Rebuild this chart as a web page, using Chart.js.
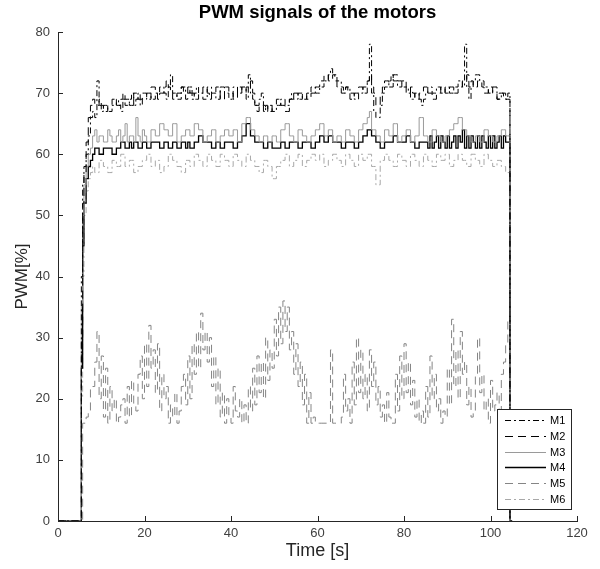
<!DOCTYPE html>
<html lang="en">
<head>
    <meta charset="UTF-8">
    <title>PWM signals of the motors</title>
    <style>
        body {
            margin: 0;
            background: #fff;
        }
    </style>
    <script src="https://cdn.jsdelivr.net/npm/chart.js"></script>
</head>
<body>
    <canvas id="pwm-chart" width="600" height="569"></canvas>
    <script>
        // time stamps [s], shared by all motors
        const time = [
            0, 5.2, 5.4, 5.7, 6, 6.5, 7, 7.5,
            8, 8.5, 9, 9.5,
            10, 10.5, 11, 11.5, 12, 12.5, 13, 13.5, 14, 14.5,
            15, 15.5, 16, 16.5, 17, 17.5, 18, 18.5, 19, 19.5,
            20, 20.5, 21, 21.5, 22, 22.5, 23, 23.5, 24, 24.5,
            25, 25.5, 26, 26.5, 27, 27.5, 28, 28.5, 29, 29.5,
            30, 30.5, 31, 31.5, 32, 32.5, 33, 33.5, 34, 34.5,
            35, 35.5, 36, 36.5, 37, 37.5, 38, 38.5, 39, 39.5,
            40, 40.5, 41, 41.5, 42, 42.5, 43, 43.5, 44, 44.5,
            45, 45.5, 46, 46.5, 47, 47.5, 48, 48.5, 49, 49.5,
            50, 50.5, 51, 51.5, 52, 52.5, 53, 53.5, 54, 54.5,
            55, 55.5, 56, 56.5, 57, 57.5, 58, 58.5, 59, 59.5,
            60, 60.5, 61, 61.5, 62, 62.5, 63, 63.5, 64, 64.5,
            65, 65.5, 66, 66.5, 67, 67.5, 68, 68.5, 69, 69.5,
            70, 70.5, 71, 71.5, 72, 72.5, 73, 73.5, 74, 74.5,
            75, 75.5, 76, 76.5, 77, 77.5, 78, 78.5, 79, 79.5,
            80, 80.5, 81, 81.5, 82, 82.5, 83, 83.5, 84, 84.5,
            85, 85.5, 86, 86.5, 87, 87.5, 88, 88.5, 89, 89.5,
            90, 90.5, 91, 91.5, 92, 92.5, 93, 93.5, 94, 94.5,
            95, 95.5, 96, 96.5, 97, 97.5, 98, 98.5, 99, 99.5,
            100, 100.5, 101, 101.5, 102, 102.5, 103, 103.5, 104,
            104.5, 105
        ];

        const m1 = [
            0, 0, 40, 55, 58, 60, 63, 66,
            67, 66, 72, 68,
            67, 68, 68, 67, 67, 68, 68, 69, 68, 67,
            69, 68, 68, 69, 70, 68, 69, 70, 68, 69,
            69, 70, 70, 69, 69, 70, 70, 71, 71, 70,
            69, 71, 73, 70, 70, 69, 69, 71, 71, 70,
            70, 71, 69, 70, 71, 70, 70, 69, 69, 71,
            71, 70, 70, 69, 69, 71, 71, 70, 70, 69,
            69, 71, 71, 70, 70, 71, 71, 69, 73, 70,
            69, 68, 68, 69, 70, 68, 67, 68, 68, 67,
            67, 68, 68, 69, 69, 68, 68, 69, 70, 69,
            69, 70, 70, 69, 69, 70, 70, 71, 71, 70,
            70, 71, 71, 72, 72, 73, 74, 73, 73, 72,
            72, 71, 70, 71, 71, 70, 70, 69, 69, 70,
            70, 71, 71, 72, 78, 70, 67, 66, 66, 68,
            70, 71, 71, 72, 73, 72, 72, 71, 71, 72,
            72, 71, 70, 69, 69, 70, 70, 69, 68, 69,
            70, 71, 71, 70, 70, 71, 71, 70, 70, 71,
            71, 70, 70, 71, 71, 72, 72, 71, 78, 71,
            69, 71, 72, 73, 73, 72, 72, 71, 71, 70,
            70, 71, 71, 69, 69, 70, 70, 69, 70,
            0, 0
        ];

        const m2 = [
            0, 0, 30, 52, 57, 62, 66, 68,
            69, 68, 68, 69,
            68, 67, 67, 68, 68, 69, 69, 68, 68, 69,
            70, 69, 69, 68, 68, 70, 70, 69, 69, 70,
            70, 69, 69, 71, 71, 70, 69, 70, 70, 71,
            72, 71, 70, 69, 69, 70, 70, 71, 70, 69,
            71, 70, 70, 69, 69, 70, 70, 71, 71, 70,
            69, 70, 70, 71, 71, 69, 69, 71, 71, 70,
            70, 69, 69, 71, 71, 70, 70, 71, 71, 72,
            70, 68, 67, 68, 68, 67, 68, 67, 67, 68,
            68, 69, 69, 68, 68, 67, 67, 69, 69, 70,
            70, 69, 69, 70, 70, 69, 69, 70, 70, 71,
            71, 72, 72, 73, 73, 72, 72, 73, 72, 71,
            71, 70, 70, 71, 70, 69, 69, 70, 70, 71,
            71, 70, 70, 72, 73, 71, 70, 68, 68, 70,
            71, 72, 72, 71, 71, 73, 73, 72, 72, 71,
            71, 70, 70, 71, 70, 69, 69, 70, 70, 71,
            71, 70, 70, 69, 69, 70, 70, 71, 71, 70,
            70, 71, 71, 70, 70, 71, 71, 72, 72, 73,
            71, 72, 71, 71, 72, 72, 71, 70, 70, 71,
            71, 70, 70, 69, 70, 70, 69, 69, 69,
            0, 0
        ];

        const m3 = [
            0, 0, 35, 50, 55, 58, 60, 61,
            63, 64, 62, 63,
            63, 62, 62, 64, 63, 62, 62, 63, 64, 62,
            63, 65, 62, 63, 63, 62, 66, 63, 62, 64,
            63, 62, 62, 64, 64, 63, 63, 65, 65, 64,
            64, 63, 63, 65, 65, 62, 62, 63, 63, 64,
            64, 63, 63, 65, 65, 64, 64, 62, 62, 63,
            63, 64, 64, 62, 62, 63, 63, 64, 64, 63,
            63, 64, 64, 62, 62, 65, 65, 66, 66, 64,
            64, 63, 63, 62, 62, 63, 63, 62, 62, 63,
            63, 62, 62, 64, 64, 65, 65, 63, 63, 62,
            62, 64, 64, 63, 63, 62, 62, 63, 63, 64,
            64, 65, 65, 63, 63, 64, 64, 62, 62, 63,
            63, 62, 62, 64, 64, 63, 63, 62, 62, 64,
            64, 65, 65, 66, 67, 64, 64, 63, 63, 62,
            62, 64, 64, 63, 63, 65, 65, 62, 62, 63,
            63, 64, 64, 62, 62, 63, 63, 66, 66, 63,
            63, 62, 62, 64, 64, 63, 63, 62, 62, 63,
            63, 64, 64, 65, 65, 66, 66, 64, 64, 63,
            63, 62, 62, 63, 63, 62, 62, 64, 64, 63,
            63, 62, 62, 63, 63, 64, 64, 63, 63,
            0, 0
        ];

        const m4 = [
            0, 0, 25, 45, 52, 56, 58, 59,
            60, 61, 61, 60,
            60, 61, 61, 61, 61, 60, 60, 61, 61, 62,
            62, 61, 61, 62, 61, 62, 62, 61, 61, 62,
            62, 61, 61, 62, 62, 62, 62, 61, 61, 62,
            62, 61, 61, 62, 62, 61, 61, 62, 62, 61,
            62, 61, 61, 62, 62, 63, 63, 62, 62, 62,
            62, 61, 61, 62, 62, 61, 61, 62, 62, 62,
            62, 61, 61, 62, 62, 63, 63, 65, 65, 63,
            63, 62, 62, 62, 62, 61, 61, 62, 62, 61,
            61, 61, 61, 62, 62, 61, 61, 62, 62, 62,
            62, 61, 61, 62, 62, 62, 62, 61, 61, 62,
            62, 63, 63, 62, 62, 63, 63, 62, 62, 62,
            62, 61, 61, 62, 62, 62, 62, 61, 61, 62,
            62, 63, 63, 64, 64, 63, 63, 62, 62, 61,
            61, 62, 62, 62, 62, 63, 63, 62, 62, 62,
            62, 63, 63, 62, 62, 61, 61, 62, 62, 62,
            62, 61, 63, 61, 62, 63, 61, 63, 62, 61,
            63, 61, 62, 63, 61, 63, 62, 64, 61, 63,
            61, 63, 62, 61, 63, 61, 63, 62, 61, 63,
            61, 63, 61, 62, 63, 61, 63, 62, 62,
            0, 0
        ];

        const m5 = [
            0, 0, 0, 16, 16, 17, 18, 22,
            22, 26, 31, 20,
            27, 17, 25, 16, 22, 18, 20, 16, 17, 19,
            20, 16, 22, 17, 23, 19, 18, 24, 27, 20,
            29, 22, 32, 25, 28, 21, 29, 18, 24, 20,
            22, 16, 19, 17, 21, 16, 18, 22, 24, 19,
            27, 20, 29, 24, 31, 25, 34, 28, 31, 26,
            30, 22, 27, 19, 25, 17, 21, 16, 20, 17,
            16, 22, 18, 17, 20, 16, 19, 16, 22, 18,
            25, 19, 27, 21, 26, 20, 30, 23, 28, 25,
            33, 27, 35, 29, 36, 31, 35, 28, 31, 24,
            29, 22, 26, 19, 24, 16, 21, 16, 17, 16,
            16, 16, 16, 16, 16, 16, 28, 16, 16, 16,
            16, 17, 24, 18, 20, 16, 26, 19, 30, 21,
            28, 20, 24, 18, 28, 22, 26, 19, 22, 17,
            19, 16, 21, 17, 16, 16, 24, 18, 27, 20,
            29, 21, 26, 19, 23, 17, 20, 16, 18, 16,
            22, 17, 27, 20, 24, 18, 20, 16, 18, 17,
            25, 19, 33, 22, 28, 20, 31, 24, 26, 19,
            22, 17, 18, 24, 30, 21, 24, 18, 20, 16,
            23, 18, 19, 21, 16, 24, 26, 29, 33,
            0, 0
        ];

        const m6 = [
            0, 0, 20, 40, 50, 54, 56, 57,
            58, 57, 57, 59,
            59, 58, 58, 57, 57, 59, 59, 58, 58, 60,
            60, 58, 58, 59, 59, 57, 57, 58, 58, 59,
            59, 60, 60, 58, 58, 59, 59, 57, 57, 58,
            58, 60, 60, 59, 59, 58, 58, 57, 57, 59,
            59, 58, 58, 60, 60, 59, 59, 58, 58, 60,
            60, 59, 59, 58, 58, 60, 60, 59, 59, 58,
            58, 60, 60, 59, 59, 58, 58, 60, 60, 59,
            59, 58, 58, 57, 57, 59, 59, 58, 58, 56,
            56, 58, 58, 59, 59, 60, 60, 58, 58, 59,
            59, 60, 60, 58, 58, 59, 59, 60, 60, 59,
            59, 60, 60, 58, 58, 59, 59, 60, 60, 59,
            59, 58, 58, 60, 60, 59, 59, 58, 58, 60,
            60, 59, 59, 60, 60, 58, 58, 55, 55, 59,
            59, 60, 60, 59, 59, 58, 58, 60, 60, 59,
            59, 58, 58, 60, 60, 59, 59, 58, 58, 60,
            60, 59, 59, 58, 58, 60, 60, 59, 59, 60,
            60, 58, 58, 59, 59, 60, 60, 59, 59, 58,
            58, 60, 60, 59, 59, 58, 58, 60, 60, 59,
            59, 58, 58, 59, 59, 58, 58, 57, 57,
            0, 0
        ];

        const motorNames = ['M1', 'M2', 'M3', 'M4', 'M5', 'M6'];
        const xTicks = [0, 20, 40, 60, 80, 100, 120];
        const yTicks = [0, 10, 20, 30, 40, 50, 60, 70, 80];

        const FONT = "'Liberation Sans', Arial, Helvetica, sans-serif";
        const AXIS_COLOR = '#262626';

        function toPoints(values) {
            return values.map((v, i) => ({ x: time[i], y: v }));
        }

        const styles = [
            { color: '#000000', dash: [6, 3, 2, 3], width: 1 },
            { color: '#000000', dash: [8, 5], width: 1 },
            { color: '#9a9a9a', dash: [], width: 1 },
            { color: '#000000', dash: [], width: 1.3 },
            { color: '#858585', dash: [8, 5], width: 1 },
            { color: '#a8a8a8', dash: [6, 3, 2, 3], width: 1 }
        ];

        const series = [m1, m2, m3, m4, m5, m6];

        const datasets = series.map((values, i) => ({
            label: motorNames[i],
            data: toPoints(values),
            borderColor: styles[i].color,
            borderDash: styles[i].dash,
            borderWidth: styles[i].width,
            pointRadius: 0,
            stepped: true,
            fill: false,
            order: i
        }));

        // MATLAB style ticks pointing into the plot
        const inwardTicks = {
            id: 'inwardTicks',
            afterDatasetsDraw(chart) {
                const { ctx, chartArea, scales } = chart;
                ctx.save();
                ctx.strokeStyle = AXIS_COLOR;
                ctx.lineWidth = 1;
                ctx.beginPath();
                xTicks.forEach(t => {
                    const px = Math.round(scales.x.getPixelForValue(t)) + 0.5;
                    ctx.moveTo(px, chartArea.bottom);
                    ctx.lineTo(px, chartArea.bottom - 5);
                });
                yTicks.forEach(t => {
                    const py = Math.round(scales.y.getPixelForValue(t)) + 0.5;
                    ctx.moveTo(chartArea.left, py);
                    ctx.lineTo(chartArea.left + 5, py);
                });
                ctx.stroke();
                ctx.restore();
            }
        };

        // boxed legend in the lower right corner of the axes
        const boxLegend = {
            id: 'boxLegend',
            afterDraw(chart) {
                const { ctx, chartArea } = chart;
                const w = 74, h = 100, rowH = 15.8;
                const x0 = chartArea.right - 6 - w;
                const y0 = chartArea.bottom - 12 - h;
                ctx.save();
                ctx.fillStyle = '#fff';
                ctx.fillRect(x0, y0, w, h);
                ctx.strokeStyle = AXIS_COLOR;
                ctx.lineWidth = 1;
                ctx.strokeRect(Math.round(x0) + 0.5, Math.round(y0) + 0.5, w, h);
                ctx.font = '11px ' + FONT;
                ctx.textBaseline = 'middle';
                ctx.fillStyle = '#000';
                chart.data.datasets.forEach((ds, i) => {
                    const y = Math.round(y0 + 11 + i * rowH) + 0.5;
                    ctx.beginPath();
                    ctx.strokeStyle = ds.borderColor;
                    ctx.lineWidth = ds.borderWidth;
                    ctx.setLineDash(ds.borderDash);
                    ctx.moveTo(x0 + 8, y);
                    ctx.lineTo(x0 + 49, y);
                    ctx.stroke();
                    ctx.setLineDash([]);
                    ctx.fillText(ds.label, x0 + 53, y);
                });
                ctx.restore();
            }
        };

        new Chart(document.getElementById('pwm-chart'), {
            type: 'line',
            data: { datasets: datasets },
            options: {
                responsive: false,
                animation: false,
                devicePixelRatio: 1,
                layout: { padding: { left: 0, right: 23, top: 0, bottom: 0 } },
                plugins: {
                    legend: { display: false },
                    tooltip: { enabled: false },
                    title: {
                        display: true,
                        text: 'PWM signals of the motors',
                        fullSize: false,
                        color: '#000',
                        font: { family: FONT, size: 18.5, weight: 'bold', lineHeight: 1.2 },
                        padding: { top: 2, bottom: 7.8 }
                    }
                },
                scales: {
                    x: {
                        type: 'linear',
                        min: 0,
                        max: 120,
                        afterFit(scale) { scale.height = 48; },
                        afterBuildTicks(scale) { scale.ticks = xTicks.map(v => ({ value: v })); },
                        grid: { display: false, drawTicks: false },
                        border: { display: true, color: AXIS_COLOR, width: 1 },
                        ticks: {
                            color: '#404040',
                            padding: 5,
                            maxRotation: 0,
                            font: { family: FONT, size: 13 }
                        },
                        title: {
                            display: true,
                            text: 'Time [s]',
                            color: '#262626',
                            font: { family: FONT, size: 18 },
                            padding: { top: 0, bottom: 7 }
                        }
                    },
                    y: {
                        type: 'linear',
                        min: 0,
                        max: 80,
                        afterFit(scale) { scale.width = 58; },
                        afterBuildTicks(scale) { scale.ticks = yTicks.map(v => ({ value: v })); },
                        grid: { display: false, drawTicks: false },
                        border: { display: true, color: AXIS_COLOR, width: 1 },
                        ticks: {
                            color: '#404040',
                            padding: 8,
                            font: { family: FONT, size: 13 }
                        },
                        title: {
                            display: true,
                            text: 'PWM[%]',
                            color: '#262626',
                            font: { family: FONT, size: 17 },
                            padding: { top: 12, bottom: 0 }
                        }
                    }
                }
            },
            plugins: [inwardTicks, boxLegend]
        });
    </script>
</body>
</html>
